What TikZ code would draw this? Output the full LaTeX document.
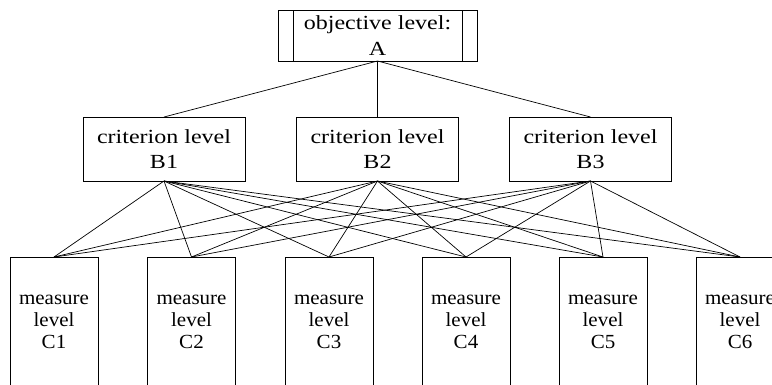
\documentclass[tikz,border=0pt]{standalone}
\usepackage{fontspec}
\setmainfont{Liberation Serif}
\newfontfamily\widefont[FakeStretch=1.2]{Liberation Serif}
\newfontfamily\measfont[FakeStretch=1.05]{Liberation Serif}
\begin{document}
\begin{tikzpicture}[x=1pt,y=-1pt,
  box/.style={draw, line width=0.8pt, inner sep=0pt, outer sep=0pt, align=center},
  goal/.style={box, minimum width=199pt, minimum height=51pt,
    font=\widefont\fontsize{20}{26}\selectfont},
  crit/.style={box, minimum width=162pt, minimum height=64pt,
    font=\widefont\fontsize{20}{25}\selectfont},
  meas/.style={box, minimum width=88pt, minimum height=130pt,
    font=\measfont\fontsize{20}{22}\selectfont},
  link/.style={line width=0.7pt}]
\useasboundingbox (0,0) rectangle (772,384);
\clip (0,0) rectangle (772,384);

% objective level (predefined-process style box)
\node[goal] (A) at (377.5,35.5) {objective level:\\A};
\draw[line width=0.8pt] ([xshift=15pt]A.north west) -- ([xshift=15pt]A.south west);
\draw[line width=0.8pt] ([xshift=-15pt]A.north east) -- ([xshift=-15pt]A.south east);

% criterion level
\node[crit] (B1) at (164,149)   {criterion level\\B1};
\node[crit] (B2) at (377.5,149) {criterion level\\B2};
\node[crit] (B3) at (590.5,149) {criterion level\\B3};

% measure level
\foreach \i/\x in {1/54,2/191.5,3/329,4/466,5/603,6/740}
  \node[meas] (C\i) at (\x,322) {measure\\level\\C\i};

% connections
\foreach \b in {1,2,3}
  \draw[link] (A.south) -- (B\b.north);
\foreach \b in {1,2,3}
  \foreach \c in {1,...,6}
    \draw[link] (B\b.south) -- (C\c.north);
\end{tikzpicture}
\end{document}
